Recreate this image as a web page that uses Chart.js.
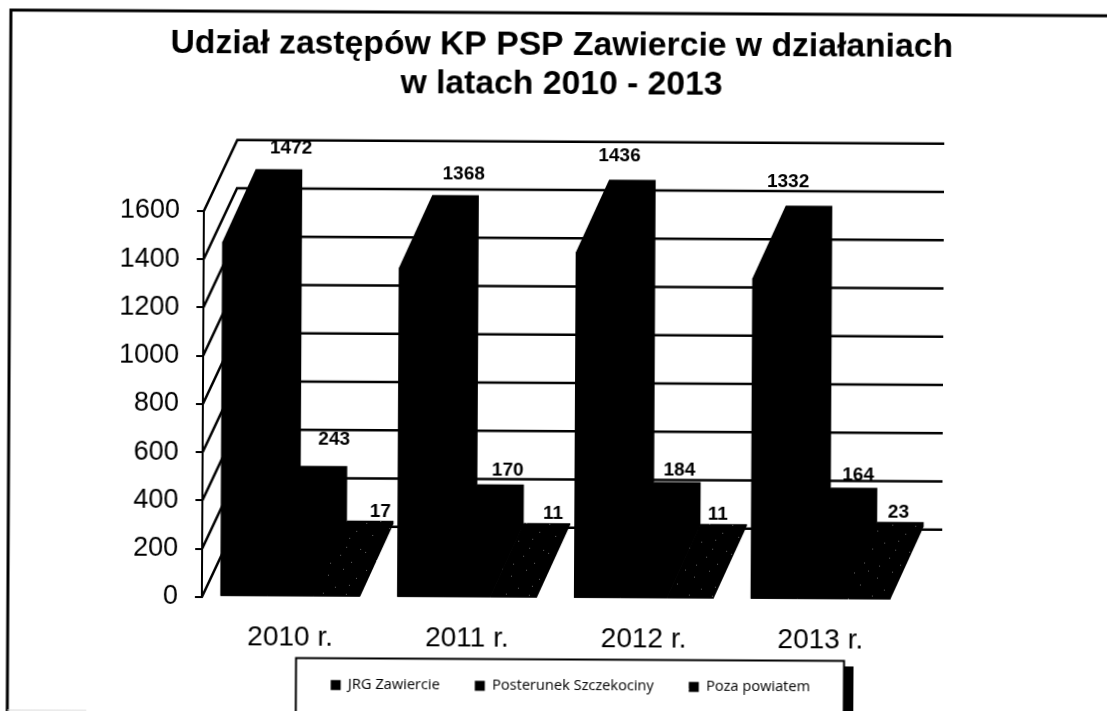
<!DOCTYPE html>
<html lang="pl">
<head>
<meta charset="utf-8">
<title>Udział zastępów KP PSP Zawiercie</title>
<script src="https://cdn.jsdelivr.net/npm/chart.js@4/dist/chart.umd.min.js"></script>
<style>
    html, body { margin: 0; padding: 0; background: #fff; overflow: hidden; width: 1107px; height: 711px; }
    #wrap { width: 1130px; height: 770px; transform: rotate(0.3deg); transform-origin: 0 0; }
</style>
</head>
<body>
<div id="wrap"><canvas id="chart" width="1130" height="770"></canvas></div>
<script>
const categories = ['2010 r.', '2011 r.', '2012 r.', '2013 r.'];
const jrgZawiercie = [1472, 1368, 1436, 1332];
const posterunek = [243, 170, 184, 164];
const pozaPowiatem = [17, 11, 11, 23];
const yTicks = [0, 200, 400, 600, 800, 1000, 1200, 1400, 1600];

// oblique projection of the 3D look
const DEPTH_X = 33;
const BAR_DEPTH_Y = -73;
const WALL_DEPTH_Y = -71;

// hand placed value labels, per series then per category
const labelLift = [[21, 21, 24, 24], [26, 14, 12, 12], [9, 9, 9, 9]];
const labelNudge = [[12, 8, -13, -21], [10, 7, 2, 4], [10, 6, -6, -2]];

function speckle() {
    const c = document.createElement('canvas');
    c.width = 61;
    c.height = 47;
    const g = c.getContext('2d');
    g.fillStyle = '#000';
    g.fillRect(0, 0, 61, 47);
    g.fillStyle = '#666';
    [[3, 4], [17, 2], [26, 9], [41, 3], [54, 12], [9, 16], [33, 21], [47, 19], [21, 27], [2, 33], [13, 41], [38, 36], [58, 30], [49, 43], [28, 44], [44, 28]]
        .forEach(([x, y]) => g.fillRect(x, y, 1, 1));
    return g.createPattern(c, 'repeat');
}
const speckleFill = speckle();

const wallPlugin = {
    id: 'wall',
    beforeDatasetsDraw(chart) {
        const { ctx, chartArea, scales } = chart;
        ctx.save();
        ctx.strokeStyle = '#000';
        ctx.lineWidth = 2.5;
        yTicks.forEach((v) => {
            const y = scales.y.getPixelForValue(v);
            ctx.beginPath();
            ctx.moveTo(chartArea.left, y);
            ctx.lineTo(chartArea.left + DEPTH_X, y + WALL_DEPTH_Y);
            ctx.lineTo(chartArea.right + DEPTH_X, y + WALL_DEPTH_Y);
            ctx.stroke();
        });
        // whole silhouette of each bar, left series first so the low bars sit over the tall ones
        chart.data.datasets.forEach((ds, i) => {
            chart.getDatasetMeta(i).data.forEach((bar) => {
                const left = bar.x - bar.width / 2;
                const right = bar.x + bar.width / 2;
                ctx.beginPath();
                ctx.moveTo(left, bar.y);
                ctx.lineTo(left + DEPTH_X, bar.y + BAR_DEPTH_Y);
                ctx.lineTo(right + DEPTH_X, bar.y + BAR_DEPTH_Y);
                ctx.lineTo(right + DEPTH_X, bar.base + BAR_DEPTH_Y);
                ctx.lineTo(right, bar.base);
                ctx.lineTo(left, bar.base);
                ctx.closePath();
                ctx.fillStyle = ds.backgroundColor;
                ctx.fill();
            });
        });
        ctx.restore();
    },
    afterDatasetsDraw(chart) {
        const { ctx } = chart;
        ctx.save();
        ctx.fillStyle = '#000';
        ctx.font = 'bold 19px "Liberation Sans"';
        ctx.textAlign = 'center';
        ctx.textBaseline = 'middle';
        chart.data.datasets.forEach((ds, i) => {
            chart.getDatasetMeta(i).data.forEach((bar, j) => {
                ctx.fillText(ds.data[j], bar.x + DEPTH_X + labelNudge[i][j], bar.y + BAR_DEPTH_Y - labelLift[i][j]);
            });
        });
        ctx.restore();
    },
    afterLayout(chart) {
        const legend = chart.legend;
        legend.left += 66;
        legend.right += 66;
        legend.top = 641;
        legend.bottom = 700;
        chart.titleBlock.left += 54;
        chart.titleBlock.right += 54;
    },
    afterDraw(chart) {
        const { ctx } = chart;
        ctx.save();
        ctx.strokeStyle = '#000';
        // outer frame of the scanned page
        ctx.lineWidth = 3;
        ctx.beginPath();
        ctx.moveTo(11, 770);
        ctx.lineTo(11, 10);
        ctx.lineTo(1130, 10);
        ctx.stroke();
        ctx.strokeStyle = '#d8d8d8';
        ctx.lineWidth = 1;
        ctx.beginPath();
        ctx.moveTo(11, 710);
        ctx.lineTo(90, 710);
        ctx.stroke();
        // legend box with its heavy right shadow
        ctx.strokeStyle = '#000';
        ctx.lineWidth = 2;
        ctx.beginPath();
        ctx.moveTo(299.5, 716);
        ctx.lineTo(299.5, 656.5);
        ctx.lineTo(847.5, 656.5);
        ctx.lineTo(847.5, 770);
        ctx.stroke();
        ctx.fillStyle = '#000';
        ctx.fillRect(848, 662, 9, 108);
        ctx.restore();
    },
};

new Chart(document.getElementById('chart'), {
    type: 'bar',
    data: {
        labels: categories,
        datasets: [
            { label: 'JRG Zawiercie', data: jrgZawiercie, backgroundColor: '#000' },
            { label: 'Posterunek Szczekociny', data: posterunek, backgroundColor: '#000' },
            { label: 'Poza powiatem', data: pozaPowiatem, backgroundColor: speckleFill },
        ],
    },
    options: {
        responsive: false,
        animation: false,
        datasets: { bar: { barPercentage: 1, categoryPercentage: 0.79 } },
        layout: { padding: { left: 104, right: 218, bottom: 41 } },
        plugins: {
            title: {
                display: true,
                text: ['Udział zastępów KP PSP Zawiercie w działaniach', 'w latach 2010 - 2013'],
                color: '#000',
                font: { family: '"Liberation Sans"', size: 33.7, weight: 'bold', lineHeight: 1.14 },
                padding: { top: 24, bottom: 109 },
            },
            legend: {
                position: 'bottom',
                labels: {
                    color: '#000',
                    font: { family: '"Open Sans"', size: 14.6 },
                    boxWidth: 10,
                    boxHeight: 10,
                    padding: 35,
                },
            },
            tooltip: { enabled: false },
        },
        scales: {
            x: {
                grid: { display: false },
                border: { display: false },
                ticks: { color: '#000', font: { family: '"Liberation Sans"', size: 28 }, padding: 16 },
            },
            y: {
                min: 0,
                max: 1600,
                afterBuildTicks(scale) {
                    scale.ticks = yTicks.map((value) => ({ value }));
                },
                grid: { drawOnChartArea: false, color: '#000', lineWidth: 2, tickLength: 7 },
                border: { display: true, color: '#000', width: 2 },
                ticks: {
                    color: '#000',
                    font: { family: '"Liberation Sans"', size: 27 },
                    padding: 17,
                    callback: (value) => String(value),
                },
            },
        },
    },
    plugins: [wallPlugin],
});
</script>
</body>
</html>
